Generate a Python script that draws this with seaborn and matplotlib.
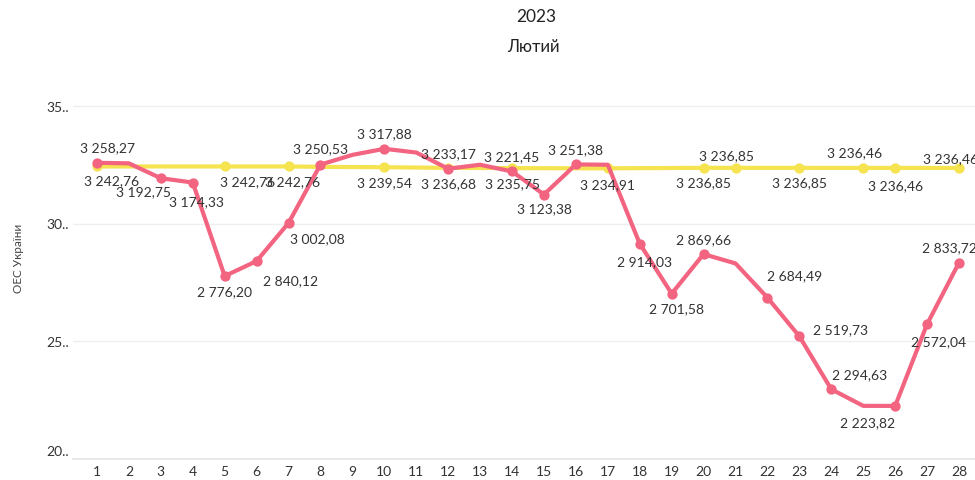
import matplotlib
matplotlib.use("Agg")
import matplotlib.pyplot as plt
import matplotlib.transforms as mtransforms
import seaborn as sns
import pandas as pd

# ---------------- data ----------------
days = list(range(1, 29))
oes_values = [3258.27, 3256.0, 3192.75, 3174.33, 2776.20, 2840.12, 3002.08, 3250.53,
              3292.0, 3317.88, 3302.0, 3233.17, 3250.0, 3221.45, 3123.38, 3251.38,
              3250.0, 2914.03, 2701.58, 2869.66, 2830.0, 2684.49, 2519.73, 2294.63,
              2224.0, 2223.82, 2572.04, 2833.72]
avg_values = [3242.76, 3242.76, 3242.76, 3242.76, 3242.76, 3242.76, 3242.76, 3241.0,
              3240.2, 3239.54, 3238.0, 3236.68, 3236.2, 3235.75, 3235.3, 3235.0,
              3234.91, 3235.5, 3236.2, 3236.85, 3236.85, 3236.85, 3236.85, 3236.6,
              3236.46, 3236.46, 3236.46, 3236.46]
oes_labeled_days = [1, 3, 4, 5, 6, 7, 8, 10, 12, 14, 15, 16, 18, 19, 20, 22, 23, 24, 26, 27, 28]
avg_labeled_days = [1, 5, 7, 10, 12, 14, 17, 20, 21, 23, 25, 26, 28]
ytick_values = [20, 25, 30, 35]
ytick_labels = ["20..", "25..", "30..", "35.."]
title = "2023"
subtitle = "Лютий"
ylabel = "ОЕС України"

# label offsets in pixels (layout)
oes_offsets = {1: (11, 16), 3: (-17, -13), 4: (4, -19), 5: (0, -15), 6: (34, -19),
               7: (29, -15), 8: (0, 16), 10: (0, 16), 12: (0, 16), 14: (0, 15),
               15: (0, -14), 16: (0, 15), 18: (5, -17), 19: (5, -15), 20: (0, 15),
               22: (27, 22), 23: (41, 7), 24: (28, 15), 26: (-28, -16), 27: (11, -17),
               28: (-10, 15)}
avg_offsets = {1: (15, -14), 5: (23, -15), 7: (4, -15), 10: (0, -15), 12: (0, -15),
               14: (0, -15), 17: (0, -16), 20: (0, -14), 21: (-9, 13), 23: (0, -14),
               25: (-9, 16), 26: (0, -17), 28: (-8, 10)}

PINK = "#F26480"
YELLOW = "#F5E350"
TXT = "#333333"

df = pd.DataFrame({"day": days, "oes": [v / 100 for v in oes_values],
                   "avg": [v / 100 for v in avg_values]})

sns.set_theme(style="white")
plt.rcParams["font.family"] = ["Lato", "DejaVu Sans"]

fig = plt.figure(figsize=(9.75, 4.81), dpi=100)
ax = fig.add_axes([73 / 975, (481 - 459.5) / 481, 1 - 73 / 975, (459.5 - 90) / 481])

sns.lineplot(data=df, x="day", y="avg", color=YELLOW, linewidth=3.0, ax=ax, zorder=3)
sns.lineplot(data=df, x="day", y="oes", color=PINK, linewidth=3.0, ax=ax, zorder=4)

sub_avg = df[df["day"].isin(avg_labeled_days)]
sub_oes = df[df["day"].isin(oes_labeled_days)]
sns.scatterplot(data=sub_avg, x="day", y="avg", color=YELLOW, s=55, linewidth=0, ax=ax, zorder=3)
sns.scatterplot(data=sub_oes, x="day", y="oes", color=PINK, s=55, linewidth=0, ax=ax, zorder=5)


def fmt(v):
    s = f"{v:,.2f}"
    return s.replace(",", " ").replace(".", ",")


for d in oes_labeled_days:
    v = oes_values[d - 1]
    dx, dy = oes_offsets[d]
    ax.annotate(fmt(v), (d, v / 100), xytext=(dx, dy), textcoords="offset pixels",
                ha="center", va="center", fontsize=10, color=TXT, zorder=6,
                annotation_clip=False)
for d in avg_labeled_days:
    v = avg_values[d - 1]
    dx, dy = avg_offsets[d]
    ax.annotate(fmt(v), (d, v / 100), xytext=(dx, dy), textcoords="offset pixels",
                ha="center", va="center", fontsize=10, color=TXT, zorder=6,
                annotation_clip=False)

ax.set_xlim(0.25, 28 + (975 - 966) / 32.2)
ax.set_ylim(20, 35 + 17 / 23.5)

ax.set_xticks(days)
ax.set_xticklabels([str(d) for d in days])
ax.set_xticks([d + 0.5 for d in [0] + days], minor=True)
ax.tick_params(axis="x", which="major", length=0, pad=5, labelsize=10, labelcolor=TXT)
ax.tick_params(axis="x", which="minor", length=8, width=1, color="#E6E6E6", direction="out")

ax.set_yticks(ytick_values)
ax.set_yticklabels(ytick_labels)
ax.tick_params(axis="y", length=0, pad=3, labelsize=10, labelcolor=TXT)
labels = ax.get_yticklabels()
labels[0].set_transform(labels[0].get_transform() +
                        mtransforms.ScaledTranslation(0, 8 / 100, fig.dpi_scale_trans))

ax.grid(axis="y", color="#EFEFEF", linewidth=1)
ax.grid(axis="x", visible=False)
for s in ["top", "right", "left"]:
    ax.spines[s].set_visible(False)
ax.spines["bottom"].set_color("#E6E6E6")
ax.set_xlabel("")
ax.set_ylabel("")

fig.text(18 / 975, 1 - 258 / 481, ylabel, rotation=90, ha="center", va="center",
         fontsize=8.5, color="#444444")
fig.text(536 / 975, 1 - 17 / 481, title, ha="center", va="center", fontsize=12.5, color="#222222")
fig.text(533 / 975, 1 - 47 / 481, subtitle, ha="center", va="center", fontsize=12, color="#222222")

fig.savefig("out.png", dpi=100)
